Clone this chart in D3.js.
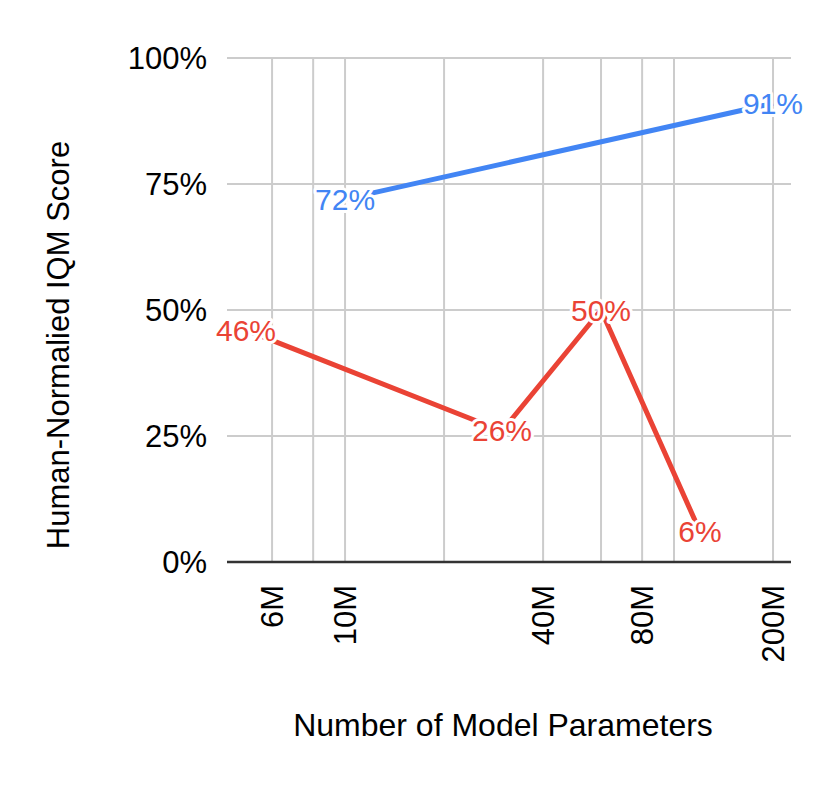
<!DOCTYPE html>
<html>
<head>
<meta charset="utf-8">
<script src="https://cdn.jsdelivr.net/npm/d3@7"></script>
<style>
  html, body { margin: 0; padding: 0; background: #fff; }
  svg { display: block; font-family: Arial, "Liberation Sans", sans-serif; }
</style>
</head>
<body>
<svg id="chart" width="830" height="785"></svg>
<script>
// ---- data ----
const blueParams = [10e6, 200e6];
const blueScores = [0.72, 0.91];
const redParams = [5e6, 30e6, 60e6, 120e6];
const redScores = [0.46, 0.26, 0.50, 0.06];
const xGridValues = [6e6, 8e6, 10e6, 20e6, 40e6, 60e6, 80e6, 100e6, 200e6];
const xTickValues = [6e6, 10e6, 40e6, 80e6, 200e6];
const xTickLabels = ["6M", "10M", "40M", "80M", "200M"];
const yTickValues = [0, 0.25, 0.5, 0.75, 1];
const yTickLabels = ["0%", "25%", "50%", "75%", "100%"];
const xDomain = [4.377e6, 226.8e6];
const xTitle = "Number of Model Parameters";
const yTitle = "Human-Normalied IQM Score";

// ---- layout ----
const plotL = 227, plotR = 791, plotT = 58, plotB = 562;
const svg = d3.select("#chart");
const x = d3.scaleLog().domain(xDomain).range([plotL, plotR]);
const y = d3.scaleLinear().domain([0, 1]).range([plotB, plotT]);

// gridlines
svg.append("g").selectAll("line").data(yTickValues.filter(v => v > 0)).join("line")
  .attr("x1", plotL).attr("x2", plotR)
  .attr("y1", d => y(d)).attr("y2", d => y(d))
  .attr("stroke", "#cccccc").attr("stroke-width", 2);
svg.append("g").selectAll("line").data(xGridValues).join("line")
  .attr("x1", d => x(d)).attr("x2", d => x(d))
  .attr("y1", plotT).attr("y2", plotB)
  .attr("stroke", "#cccccc").attr("stroke-width", 2);

// baseline
svg.append("line").attr("x1", plotL).attr("x2", plotR)
  .attr("y1", y(0)).attr("y2", y(0))
  .attr("stroke", "#333333").attr("stroke-width", 2.5);

// y axis labels
svg.append("g").selectAll("text").data(yTickValues).join("text")
  .attr("x", 207).attr("y", d => y(d))
  .attr("dy", "0.35em")
  .attr("text-anchor", "end")
  .attr("font-size", 31).attr("fill", "#000")
  .text((d, i) => yTickLabels[i]);

// x axis labels (rotated)
svg.append("g").selectAll("text").data(xTickValues).join("text")
  .attr("transform", d => `translate(${x(d)},585) rotate(-90)`)
  .attr("dy", "0.35em")
  .attr("text-anchor", "end")
  .attr("font-size", 31).attr("fill", "#000")
  .text((d, i) => xTickLabels[i]);

// axis titles
svg.append("text").attr("x", 503).attr("y", 736)
  .attr("text-anchor", "middle").attr("font-size", 32).attr("fill", "#000")
  .text(xTitle);
svg.append("text")
  .attr("transform", "translate(58,345) rotate(-90)")
  .attr("dy", "0.35em")
  .attr("text-anchor", "middle").attr("font-size", 31).attr("fill", "#000")
  .text(yTitle);

// lines
const line = d3.line().x(d => x(d[0])).y(d => y(d[1]));
const series = [
  { color: "#4285F4", pts: d3.zip(blueParams, blueScores) },
  { color: "#EA4335", pts: d3.zip(redParams, redScores) }
];
series.forEach(s => {
  svg.append("path").datum(s.pts)
    .attr("d", line).attr("fill", "none")
    .attr("stroke", s.color).attr("stroke-width", 5)
    .attr("stroke-linejoin", "round");
});
series.forEach(s => {
  svg.append("g").selectAll("text").data(s.pts).join("text")
    .attr("x", d => x(d[0])).attr("y", d => y(d[1]))
    .attr("dy", "0.35em")
    .attr("text-anchor", "middle")
    .attr("font-size", 30)
    .attr("fill", s.color)
    .attr("stroke", "#fff").attr("stroke-width", 6)
    .attr("stroke-linejoin", "round")
    .attr("paint-order", "stroke")
    .text(d => Math.round(d[1] * 100) + "%");
});
</script>
</body>
</html>
